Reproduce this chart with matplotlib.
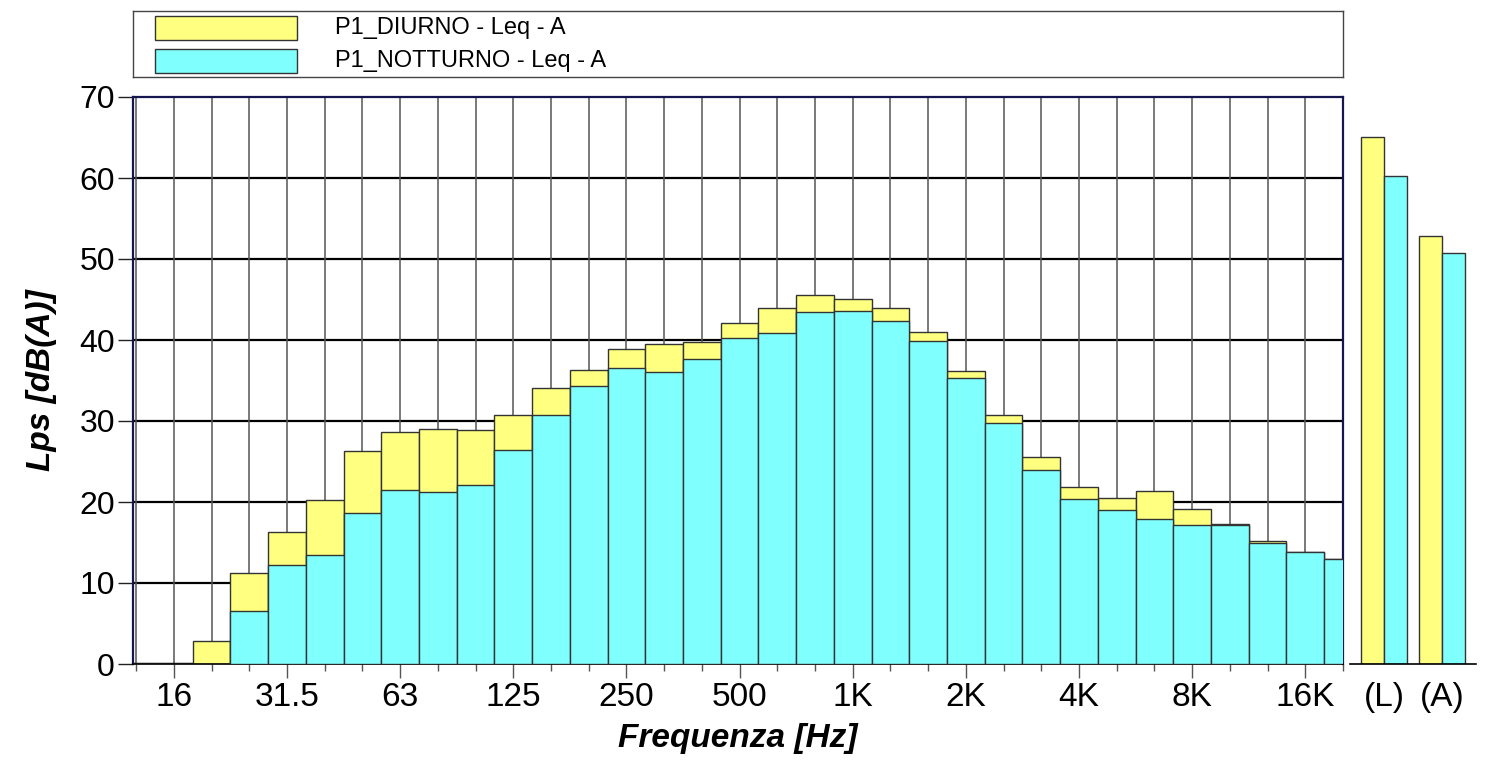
import matplotlib
matplotlib.use("Agg")
import matplotlib.pyplot as plt
from matplotlib.patches import Rectangle
import numpy as np

plt.rcParams['font.family'] = ['Liberation Sans', 'DejaVu Sans']

bands = ["12.5", "16", "20", "25", "31.5", "40", "50", "63", "80", "100", "125", "160",
         "200", "250", "315", "400", "500", "630", "800", "1K", "1.25K", "1.6K", "2K",
         "2.5K", "3.15K", "4K", "5K", "6.3K", "8K", "10K", "12.5K", "16K", "20K"]
shown_labels = ["16", "31.5", "63", "125", "250", "500", "1K", "2K", "4K", "8K", "16K"]

day = [0, 0, 2.9, 11.2, 16.3, 20.3, 26.3, 28.7, 29.0, 28.9, 30.8, 34.1, 36.3, 38.9, 39.5,
       39.8, 42.1, 43.9, 45.6, 45.1, 43.9, 41.0, 36.2, 30.8, 25.6, 21.9, 20.5, 21.3, 19.1,
       17.3, 15.2, 13.8, 13.0]
night = [0, 0, 0, 6.6, 12.2, 13.4, 18.7, 21.5, 21.2, 22.1, 26.4, 30.8, 34.3, 36.5, 36.1,
         37.6, 40.2, 40.9, 43.4, 43.6, 42.3, 39.9, 35.3, 29.8, 24.0, 20.4, 19.0, 17.9, 17.2,
         17.2, 15.0, 13.8, 13.0]

total_labels = ["(L)", "(A)"]
total_day = [65.1, 52.8]
total_night = [60.3, 50.8]

series_names = ["P1_DIURNO - Leq - A", "P1_NOTTURNO - Leq - A"]
c_day = "#FFFF80"
c_night = "#80FFFF"
edge = "#333333"
navy = "#15154f"

W, H = 1497, 761
fig = plt.figure(figsize=(W / 100, H / 100), dpi=100)

def fx(px):
    return px / W

def fy(py):
    return 1 - py / H

# main axes
L, R, T, B = 133, 1343, 97, 664
ax = fig.add_axes([fx(L), fy(B), fx(R - L), fy(T) - fy(B)])
x = np.arange(len(bands))
ax.bar(x, day, width=1.0, color=c_day, edgecolor=edge, linewidth=1.0, zorder=2)
ax.bar(x, night, width=1.0, color=c_night, edgecolor=edge, linewidth=1.0, zorder=3)
ax.set_xlim(-0.085, 31.96)
ax.set_ylim(0, 70)
ax.set_yticks(np.arange(0, 71, 10))
ax.tick_params(axis='y', labelsize=23, length=11, width=1.0, pad=2, color='#222222')

major_idx = [bands.index(s) for s in shown_labels]
minor_idx = [i for i in range(len(bands)) if i not in major_idx]
ax.set_xticks(major_idx)
ax.set_xticklabels(shown_labels)
ax.set_xticks(minor_idx, minor=True)
ax.tick_params(axis='x', which='major', labelsize=24, length=10, width=1.0, pad=3, color='#555555')
ax.tick_params(axis='x', which='minor', length=5, width=1.0, color='#555555')

for yv in range(10, 70, 10):
    ax.axhline(yv, color='black', linewidth=1.6, zorder=1)
for xv in np.arange(0, len(bands)):
    ax.axvline(xv, color='#555555', linewidth=1.1, zorder=1)

for side in ['left', 'top', 'right']:
    ax.spines[side].set_color(navy)
    ax.spines[side].set_linewidth(1.6)
ax.spines['bottom'].set_color('black')
ax.spines['bottom'].set_linewidth(1.2)

# dark baseline under the zero-level bands
zero_idx = [i for i, v in enumerate(day) if v == 0]
for i in zero_idx:
    ax.hlines(0, i - 0.5, i + 0.5, color='#111111', linewidth=2.5, zorder=4, clip_on=True)

ax.set_xlabel("Frequenza [Hz]", fontsize=24, fontweight='bold', fontstyle='italic', labelpad=7)
ax.set_ylabel("Lps [dB(A)]", fontsize=24, fontweight='bold', fontstyle='italic', labelpad=16)

# totals axes
ax2 = fig.add_axes([fx(1350), fy(B), fx(1476 - 1350), fy(T) - fy(B)])
pos_day = [0, 2.5]
pos_night = [1, 3.5]
ax2.bar(pos_day, total_day, width=1.0, color=c_day, edgecolor=edge, linewidth=1.0)
ax2.bar(pos_night, total_night, width=1.0, color=c_night, edgecolor=edge, linewidth=1.0)
ax2.set_xlim(-1.0, 4.48)
ax2.set_ylim(0, 70)
ax2.set_xticks([0.5, 3.0])
ax2.set_xticklabels(total_labels)
ax2.tick_params(axis='x', labelsize=24, length=0, pad=13)
ax2.set_yticks([])
for side in ['left', 'top', 'right']:
    ax2.spines[side].set_visible(False)
ax2.spines['bottom'].set_color('black')
ax2.spines['bottom'].set_linewidth(1.2)

# legend box
lax = fig.add_axes([fx(133), fy(77), fx(1343 - 133), fy(11) - fy(77)])
lax.set_xlim(0, 1)
lax.set_ylim(0, 1)
lax.set_xticks([])
lax.set_yticks([])
for s in lax.spines.values():
    s.set_color('#444444')
    s.set_linewidth(1.0)

def lx(px):
    return (px - 133) / (1343 - 133)

def ly(py):
    return (77 - py) / (77 - 11)

lax.add_patch(Rectangle((lx(155), ly(40)), lx(297) - lx(155), ly(16) - ly(40),
                        facecolor=c_day, edgecolor=edge, linewidth=1.0))
lax.add_patch(Rectangle((lx(155), ly(73)), lx(297) - lx(155), ly(49) - ly(73),
                        facecolor=c_night, edgecolor=edge, linewidth=1.0))
lax.text(lx(335), ly(28), series_names[0], fontsize=17, va='center', ha='left')
lax.text(lx(335), ly(61), series_names[1], fontsize=17, va='center', ha='left')

fig.savefig("out.png", dpi=100)
